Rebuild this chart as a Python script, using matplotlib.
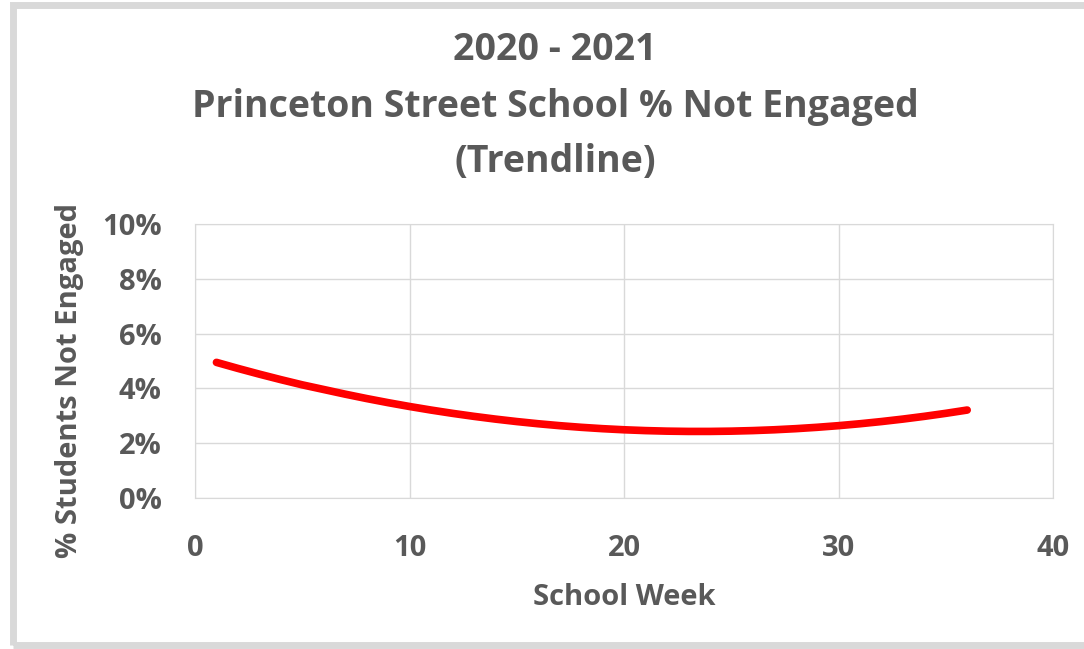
import matplotlib.pyplot as plt
from matplotlib.patches import Rectangle
from matplotlib.ticker import PercentFormatter

# DONNEES (courbe de tendance)
semaines = list(range(1, 37))
pct_non_engages = [4.95, 4.73, 4.52, 4.32, 4.13, 3.96, 3.79, 3.63, 3.48, 3.34,
                   3.21, 3.09, 2.98, 2.88, 2.79, 2.71, 2.64, 2.58, 2.53, 2.49,
                   2.46, 2.44, 2.43, 2.43, 2.44, 2.46, 2.49, 2.53, 2.58, 2.64,
                   2.71, 2.79, 2.88, 2.98, 3.09, 3.21]
titre = ["2020 - 2021", "Princeton Street School % Not Engaged", "(Trendline)"]
x_ticks = [0, 10, 20, 30, 40]
y_ticks = [0, 2, 4, 6, 8, 10]

gris = "#595959"
plt.rcParams["font.family"] = ["Open Sans", "DejaVu Sans"]
plt.rcParams["font.weight"] = "bold"

fig = plt.figure(figsize=(10.84, 6.49), dpi=100)
ax = fig.add_axes([195 / 1084, 1 - 498 / 649, (1053 - 195) / 1084, (498 - 224) / 649])

# cadre gris autour du graphique
fig.patches.append(Rectangle((13 / 1084, 4 / 649), 1.2, 1 - 9 / 649, transform=fig.transFigure,
                             fill=False, edgecolor="#d9d9d9", linewidth=5))

ax.plot(semaines, pct_non_engages, color="#ff0000", linewidth=5.5, solid_capstyle="round")

ax.set_xlim(0, 40)
ax.set_ylim(0, 10)
ax.set_xticks(x_ticks)
ax.set_yticks(y_ticks)
ax.yaxis.set_major_formatter(PercentFormatter(decimals=0))
ax.grid(True, color="#d9d9d9", linewidth=1)
ax.set_axisbelow(True)
for s in ax.spines.values():
    s.set_color("#d9d9d9")
ax.tick_params(length=0, labelsize=21, labelcolor=gris)
ax.tick_params(axis="x", pad=26)
ax.tick_params(axis="y", pad=24)

ax.set_xlabel("School Week", fontsize=21, color=gris, fontweight="bold", labelpad=14)
fig.text(70 / 1084, 1 - 380 / 649, "% Students Not Engaged", rotation=90, fontsize=21,
         color=gris, fontweight="bold", ha="center", va="center")

for txt, y in zip(titre, [50, 107, 162]):
    fig.text(555 / 1084, 1 - y / 649, txt, fontsize=27, color=gris, fontweight="bold",
             ha="center", va="center")

plt.savefig("out.png", dpi=100)
print("Graphique sauvegarde")
